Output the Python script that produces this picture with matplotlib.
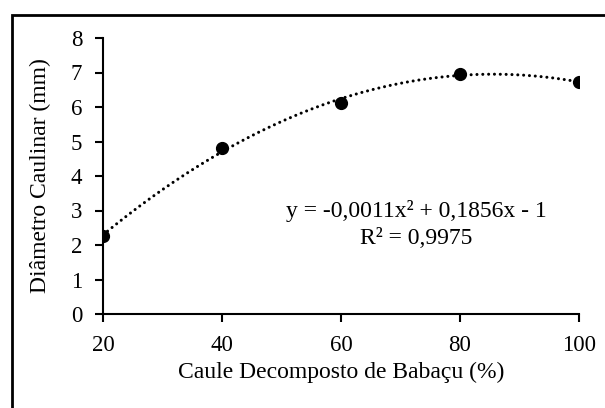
import numpy as np
import matplotlib
matplotlib.use("Agg")
import matplotlib.pyplot as plt
from matplotlib.patches import Rectangle

x_vals = [20, 40, 60, 80, 100]
y_vals = [2.26, 4.81, 6.12, 6.97, 6.72]
x_ticks = [20, 40, 60, 80, 100]
y_ticks = [0, 1, 2, 3, 4, 5, 6, 7, 8]
equation = "y = -0,0011x² + 0,1856x - 1"
r2_text = "R² = 0,9975"

plt.rcParams['font.family'] = ['Liberation Serif', 'DejaVu Serif']

W, H = 605, 408
fig = plt.figure(figsize=(W/100, H/100), dpi=100)
ax = fig.add_axes([103/W, 1-314/H, (579-103)/W, (314-38)/H])

coef = np.polyfit(x_vals, y_vals, 2)
xf = np.linspace(min(x_vals), max(x_vals), 200)
ax.plot(xf, np.polyval(coef, xf), color='black', linestyle=(0, (0.01, 1.9)), linewidth=2.2,
        dash_capstyle='round', zorder=2)
ax.plot(x_vals, y_vals, 'o', color='black', markersize=8.5, zorder=3)

ax.set_xlim(20, 100)
ax.set_ylim(0, 8)
ax.set_xticks(x_ticks)
ax.set_yticks(y_ticks)
for s in ['top', 'right']:
    ax.spines[s].set_visible(False)
for s in ['left', 'bottom']:
    ax.spines[s].set_linewidth(1.5)
ax.tick_params(direction='out', length=5.5, width=1.5, labelsize=16.5, pad=9.5)
ax.set_xlabel("Caule Decomposto de Babaçu (%)", fontsize=17, labelpad=4)
ax.set_ylabel("Diâmetro Caulinar (mm)", fontsize=17, labelpad=14)
for sp in ['left', 'bottom']:
    ax.spines[sp].set_clip_on(False)

fig.text(416/W, 1-211/H, equation, fontsize=17, ha='center', va='center')
fig.text(416/W, 1-239/H, r2_text, fontsize=17, ha='center', va='center')

fig.patches.append(Rectangle((12/W, -0.1), 1.2, 1 - 15/H + 0.1, transform=fig.transFigure,
                             fill=False, edgecolor='black', linewidth=2))

fig.savefig("out.png", dpi=100)
